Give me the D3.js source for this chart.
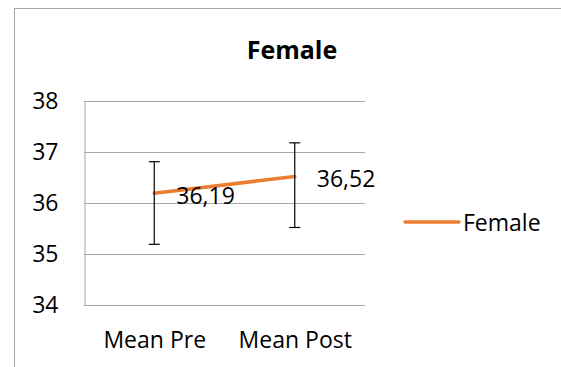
<!DOCTYPE html>
<html>
<head>
<meta charset="utf-8">
<script src="https://cdn.jsdelivr.net/npm/d3@7"></script>
<style>
  html, body { margin: 0; padding: 0; background: #fff; }
  svg { display: block; font-family: "Open Sans", sans-serif; }
</style>
</head>
<body>
<svg id="chart" width="561" height="367"></svg>
<script>
const categories = ["Mean Pre", "Mean Post"];
const seriesName = "Female";
const values = [36.19, 36.52];
const upper = [36.81, 37.18];
const lower = [35.19, 35.52];
const valueLabels = ["36,19", "36,52"];
const yTicks = [34, 35, 36, 37, 38];
const title = "Female";

const svg = d3.select("#chart");
const plot = { left: 84, right: 365, top: 101, bottom: 305 };

// outer chart border
svg.append("rect")
  .attr("x", 14.5).attr("y", 8.5)
  .attr("width", 600).attr("height", 400)
  .attr("fill", "#fff").attr("stroke", "#a6a6a6").attr("stroke-width", 1);

const x = d3.scalePoint().domain(categories).range([plot.left, plot.right]).padding(0.5);
const y = d3.scaleLinear().domain([34, 38]).range([plot.bottom, plot.top]);

// gridlines
svg.append("g").selectAll("line").data(yTicks).join("line")
  .attr("x1", plot.left).attr("x2", plot.right)
  .attr("y1", d => Math.round(y(d)) + 0.5).attr("y2", d => Math.round(y(d)) + 0.5)
  .attr("stroke", "#a6a6a6").attr("stroke-width", 1);

// y axis
const yAxis = svg.append("g")
  .attr("transform", `translate(${plot.left + 0.5},0)`)
  .call(d3.axisLeft(y).tickValues(yTicks).tickSize(0).tickPadding(26).tickFormat(d3.format("d")));
yAxis.select(".domain").attr("stroke", "#a6a6a6");
yAxis.selectAll("text").attr("font-size", 23).attr("fill", "#000")
  .attr("font-family", "Open Sans, sans-serif");

// x axis labels
const xAxis = svg.append("g")
  .attr("transform", `translate(0,${plot.bottom})`)
  .call(d3.axisBottom(x).tickSize(0).tickPadding(27));
xAxis.select(".domain").remove();
xAxis.selectAll("text").attr("font-size", 23).attr("fill", "#000")
  .attr("font-family", "Open Sans, sans-serif");

// series line
const data = categories.map((c, i) => ({ c, v: values[i], hi: upper[i], lo: lower[i], lab: valueLabels[i] }));
svg.append("path")
  .datum(data)
  .attr("fill", "none").attr("stroke", "#ED7D31").attr("stroke-width", 3.5)
  .attr("stroke-linecap", "round")
  .attr("d", d3.line().x(d => x(d.c)).y(d => y(d.v)));

// error bars
const eb = svg.append("g").attr("stroke", "#000").attr("stroke-width", 1.2);
eb.selectAll("line.v").data(data).join("line").attr("class", "v")
  .attr("x1", d => x(d.c)).attr("x2", d => x(d.c))
  .attr("y1", d => y(d.hi)).attr("y2", d => y(d.lo));
eb.selectAll("line.t").data(data).join("line").attr("class", "t")
  .attr("x1", d => x(d.c) - 5.5).attr("x2", d => x(d.c) + 5.5)
  .attr("y1", d => y(d.hi)).attr("y2", d => y(d.hi));
eb.selectAll("line.b").data(data).join("line").attr("class", "b")
  .attr("x1", d => x(d.c) - 5.5).attr("x2", d => x(d.c) + 5.5)
  .attr("y1", d => y(d.lo)).attr("y2", d => y(d.lo));

// data labels
svg.append("g").selectAll("text").data(data).join("text")
  .attr("x", d => x(d.c) + 22)
  .attr("y", d => y(d.v) + 2)
  .attr("dominant-baseline", "central")
  .attr("font-size", 23).attr("fill", "#000")
  .text(d => d.lab);

// title
svg.append("text")
  .attr("x", 292).attr("y", 49)
  .attr("text-anchor", "middle").attr("dominant-baseline", "central")
  .attr("font-size", 25).attr("font-weight", "bold").attr("fill", "#000")
  .text(title);

// legend
const lg = svg.append("g");
lg.append("line").attr("x1", 405).attr("x2", 459).attr("y1", 222).attr("y2", 222)
  .attr("stroke", "#ED7D31").attr("stroke-width", 3.5).attr("stroke-linecap", "round");
lg.append("text").attr("x", 463).attr("y", 222)
  .attr("dominant-baseline", "central").attr("font-size", 23).attr("fill", "#000")
  .text(seriesName);
</script>
</body>
</html>
